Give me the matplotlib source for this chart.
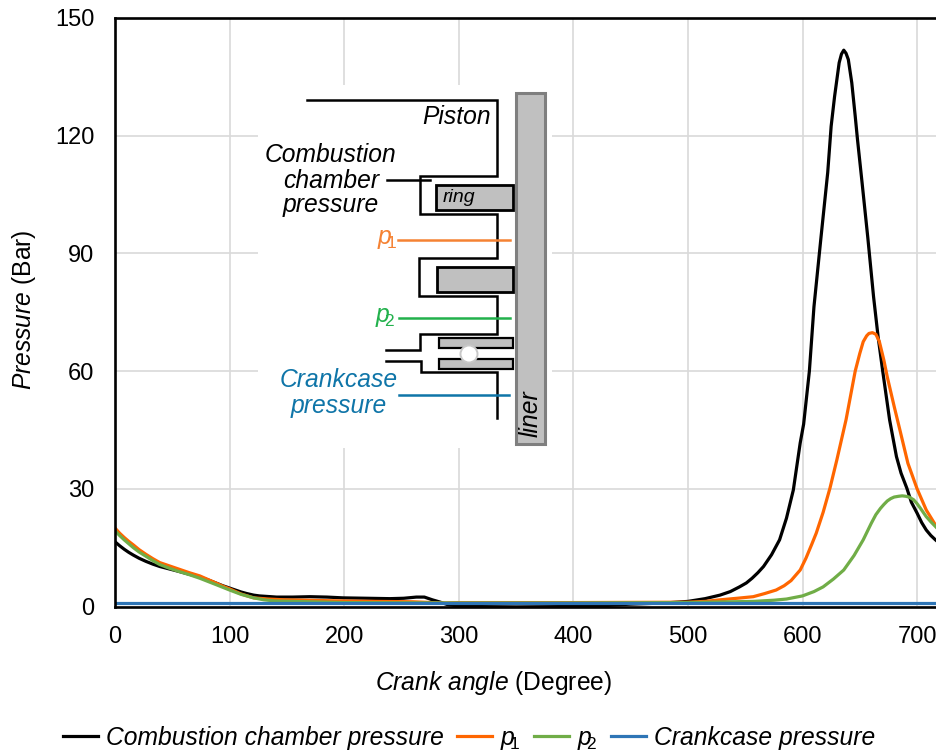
import matplotlib
matplotlib.use('Agg')
import matplotlib.pyplot as plt
from matplotlib.patches import Rectangle, Circle

plt.rcParams['font.family'] = ['Liberation Sans', 'DejaVu Sans']
plt.rcParams['mathtext.fontset'] = 'custom'
plt.rcParams['mathtext.rm'] = 'Liberation Sans'
plt.rcParams['mathtext.it'] = 'Liberation Sans:italic'
plt.rcParams['mathtext.bf'] = 'Liberation Sans:bold'

# values
angle_chamber = [0, 4, 8, 12, 16, 21, 27, 33, 39, 47, 55, 65, 74, 81, 88, 94, 100, 105, 110, 115, 121, 126, 131, 136,
                 141, 155, 170, 185, 199, 220, 240, 252, 263, 270, 277, 284, 290, 298, 310, 350, 400, 425, 450, 480,
                 500, 515, 528, 537, 545, 551, 556, 561, 566, 573, 580, 586, 592, 598, 601, 606, 610, 616, 622, 625,
                 628, 632, 634, 636, 638, 640, 643, 646, 648, 652, 657, 662, 666, 670, 676, 682, 686, 691, 695, 700,
                 704, 708, 712, 716, 720]
chamber = [16.5, 15.5, 14.6, 13.8, 13.1, 12.3, 11.5, 10.8, 10.2, 9.6, 9.0, 8.2, 7.5, 6.8, 6.0, 5.3, 4.7, 4.2, 3.7, 3.3,
           2.9, 2.7, 2.6, 2.5, 2.4, 2.4, 2.5, 2.4, 2.2, 2.1, 2.0, 2.1, 2.4, 2.4, 1.7, 1.1, 0.5, 0.2, 0.0, -0.1, 0.0,
           0.2, 0.6, 0.9, 1.3, 2.0, 2.9, 3.8, 5.0, 6.0, 7.2, 8.6, 10.2, 13.2, 17.0, 22.5, 29.7, 41.7, 46.5, 60.0, 76.4,
           93.7, 110.6, 122.4, 130.0, 138.6, 140.8, 141.8, 141.0, 139.4, 133.5, 125.0, 119.0, 108.0, 94.0, 79.0, 68.7,
           60.0, 47.6, 38.2, 34.0, 30.2, 26.6, 23.8, 21.4, 19.5, 18.1, 17.0, 16.0]

angle_p1 = [0, 4, 8, 12, 16, 21, 27, 33, 39, 47, 55, 65, 74, 81, 88, 94, 100, 110, 121, 134, 148, 200, 260, 285, 300,
            400, 500, 515, 528, 543, 557, 567, 577, 584, 590, 598, 603, 608, 612, 618, 624, 630, 638, 646, 650, 653,
            656, 658, 661, 664, 667, 671, 674, 680, 685, 692, 700, 708, 716, 720]
p1 = [20.0, 18.7, 17.6, 16.6, 15.7, 14.5, 13.3, 12.2, 11.2, 10.4, 9.6, 8.6, 7.8, 6.9, 6.0, 5.2, 4.5, 3.2, 2.2, 1.9, 1.7,
      1.4, 1.2, 0.9, 1.0, 1.0, 1.1, 1.3, 1.7, 2.1, 2.5, 3.3, 4.2, 5.3, 6.6, 9.3, 12.3, 15.8, 18.7, 24.0, 30.2, 37.4,
      47.6, 60.0, 64.5, 67.5, 69.0, 69.6, 69.8, 69.4, 67.6, 62.8, 58.5, 51.0, 45.0, 36.5, 30.0, 24.6, 20.8, 19.2]

angle_p2 = [0, 4, 8, 12, 16, 21, 27, 33, 39, 47, 55, 65, 74, 81, 88, 94, 100, 110, 121, 130, 140, 200, 300, 400, 500,
            557, 575, 586, 600, 610, 618, 627, 636, 645, 653, 660, 664, 668, 671, 674, 677, 680, 684, 687, 690, 693,
            697, 700, 703, 708, 712, 716, 720]
p2 = [19.3, 18.1, 17.0, 16.0, 15.0, 13.9, 12.8, 11.7, 10.7, 9.8, 9.0, 8.1, 7.2, 6.4, 5.6, 4.9, 4.2, 3.1, 2.2, 1.7, 1.4,
      1.0, 0.9, 0.9, 1.0, 1.3, 1.6, 1.9, 2.7, 3.8, 5.0, 7.0, 9.3, 13.0, 17.0, 21.2, 23.4, 25.0, 26.0, 26.9, 27.5, 27.9,
      28.1, 28.2, 28.1, 27.9, 27.2, 26.2, 25.0, 22.9, 21.6, 20.4, 19.2]

angle_crankcase = [0, 720]
crankcase = [0.8, 0.8]

x_ticks = [0, 100, 200, 300, 400, 500, 600, 700]
y_ticks = [0, 30, 60, 90, 120, 150]

BLACK = '#000000'
ORANGE = '#ff6600'
GREEN = '#70ad47'
BLUE = '#2e75b6'
GRID = '#d9d9d9'
W, H = 936, 755
FS = 17.7

fig = plt.figure(figsize=(W / 100, H / 100), dpi=100)
ax = fig.add_axes([115 / W, (H - 606.5) / H, 825 / W, 588.5 / H])

ax.plot(angle_chamber, chamber, color=BLACK, lw=2.3, solid_joinstyle='round', label='Combustion chamber pressure')
ax.plot(angle_p1, p1, color=ORANGE, lw=2.3, solid_joinstyle='round', label=r'$\mathit{p}_{\!\!1}$')
ax.plot(angle_p2, p2, color=GREEN, lw=2.3, solid_joinstyle='round', label=r'$\mathit{p}_{\!\!2}$')
ax.plot(angle_crankcase, crankcase, color=BLUE, lw=2.3, label='Crankcase pressure')

ax.set_xlim(0, 720)
ax.set_ylim(0, 150)
ax.set_xticks(x_ticks)
ax.set_yticks(y_ticks)
ax.grid(True, color=GRID, lw=1.2)
ax.set_axisbelow(True)
ax.tick_params(length=0, labelsize=17)
ax.tick_params(axis='x', pad=14)
ax.tick_params(axis='y', pad=15)
for s in ax.spines.values():
    s.set_linewidth(1.9)

# overlay in pixel coordinates for the schematic and the labels
ov = fig.add_axes([0, 0, 1, 1], facecolor='none')
ov.set_xlim(0, W)
ov.set_ylim(H, 0)
ov.axis('off')

ov.text(24, 310, r'$\mathit{Pressure}$ (Bar)', rotation=90, ha='center', va='center', fontsize=FS)
ov.text(493.5, 683, r'$\mathit{Crank\ angle\ (}$Degree$\mathit{)}$', ha='center', va='center', fontsize=FS)

# schematic of the ring pack
ov.add_patch(Rectangle((258, 85), 294, 363, fc='white', ec='none'))
ov.add_patch(Rectangle((516, 92.5), 29, 351.5, fc='#c0c0c0', ec='#7f7f7f', lw=2.2))
for rx, ry, rw, rh, rlw in [(436, 185, 77, 24.5, 2.0), (437, 267, 76, 25, 2.0), (439, 338, 74, 9.5, 1.6),
                            (439, 359, 74, 10, 1.6)]:
    ov.add_patch(Rectangle((rx, ry), rw, rh, fc='#c0c0c0', ec=BLACK, lw=rlw))
ov.add_patch(Circle((469, 354), 8.5, fc='white', ec='#c8c8c8', lw=1.4))

ov.plot([307, 496.5, 496.5, 420, 420, 496.5, 496.5, 418.5, 418.5, 496.5, 496.5, 420, 420, 386],
        [100, 100, 176, 176, 214, 214, 258, 258, 296, 296, 333.5, 333.5, 350, 350],
        color=BLACK, lw=1.8, solid_joinstyle='miter')
ov.plot([386, 420.5, 420.5, 496.5, 496.5], [360.5, 360.5, 372, 372, 418], color=BLACK, lw=1.8,
        solid_joinstyle='miter')
ov.plot([387, 430], [180, 180], color=BLACK, lw=1.8)
ov.plot([398, 510], [239.5, 239.5], color='#f58233', lw=1.8)
ov.plot([399, 510], [318, 318], color='#22b14c', lw=1.8)
ov.plot([399, 509], [395, 395], color='#0f75a8', lw=1.8)

ov.text(491, 117, 'Piston', style='italic', ha='right', va='center', fontsize=FS)
for label, ty in [('Combustion', 155), ('chamber', 181), ('pressure', 205)]:
    ov.text(331, ty, label, style='italic', ha='center', va='center', fontsize=FS)
ov.text(443, 198, 'ring', style='italic', ha='left', va='center', fontsize=14)
ov.text(531, 414, 'liner', style='italic', rotation=90, ha='center', va='center', fontsize=FS)
ov.text(387, 239, r'$\mathit{p}_{\!\!1}$', color='#f58233', ha='center', va='center', fontsize=FS)
ov.text(385, 317, r'$\mathit{p}_{\!\!2}$', color='#22b14c', ha='center', va='center', fontsize=FS)
ov.text(338.5, 380, 'Crankcase', style='italic', color='#0f75a8', ha='center', va='center', fontsize=FS)
ov.text(339, 406, 'pressure', style='italic', color='#0f75a8', ha='center', va='center', fontsize=FS)

# legend along the bottom
leg = fig.legend(*ax.get_legend_handles_labels(), loc='center', bbox_to_anchor=(469 / W, (H - 738.5) / H), ncol=4,
                 frameon=False, fontsize=FS, handlelength=1.42, handletextpad=0.33, columnspacing=0.55,
                 borderpad=0, borderaxespad=0)
for t in leg.get_texts():
    t.set_fontstyle('italic')

fig.savefig('out.png', dpi=100)
